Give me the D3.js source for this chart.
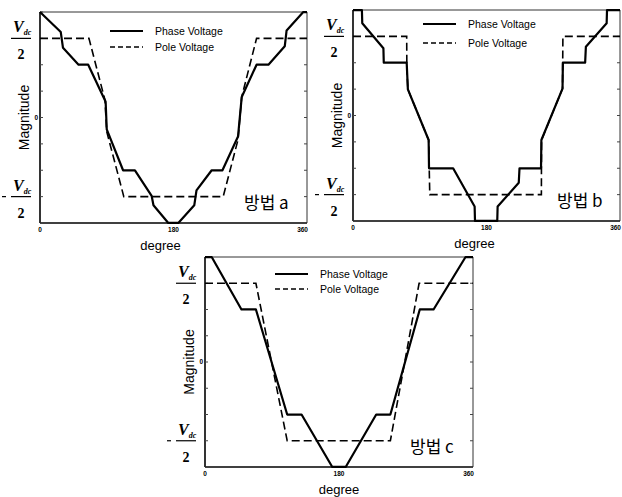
<!DOCTYPE html>
<html>
<head>
<meta charset="utf-8">
<script src="https://cdn.jsdelivr.net/npm/d3@7"></script>
<style>
  body { margin: 0; background: #fff; }
  svg { display: block; }
</style>
</head>
<body>
<svg id="chart" width="622" height="497"></svg>
<script>
// x in degrees, y in units of Vdc/2 (top of box = 4/3)
const xTicks = [0, 180, 360]
const xTickLabels = ['0', '180', '360']
const legendLabels = ['Phase Voltage', 'Pole Voltage']
const panelNames = ['방법 a', '방법 b', '방법 c']

const phaseADeg = [0, 28, 31, 52, 65, 88.5, 90, 112, 128, 150.5, 153, 173, 186.5, 208, 211, 231.5, 246, 267, 272, 292, 308, 330, 332.5, 355, 360]
const phaseAVal = [1.333, 1.08, 0.88, 0.667, 0.667, 0.2, -0.15, -0.667, -0.667, -0.99, -1.11, -1.333, -1.333, -1.11, -0.92, -0.667, -0.667, -0.24, 0.26, 0.667, 0.667, 0.9, 1.1, 1.333, 1.333]
const poleADeg = [0, 66, 87.6, 90, 113, 247, 267, 272, 292, 360]
const poleAVal = [1, 1, 0.22, -0.18, -1, -1, -0.28, 0.26, 1, 1]

const phaseBDeg = [0, 12, 12.5, 41, 41.5, 72.4, 74, 102, 102.5, 135, 164, 164.5, 194.5, 195, 223.5, 224.5, 253.5, 254, 282.5, 283, 313, 314, 342, 342.5, 360]
const phaseBVal = [1.333, 1.333, 1.165, 0.85, 0.667, 0.667, 0.33, -0.31, -0.667, -0.667, -1.15, -1.333, -1.333, -1.15, -0.85, -0.667, -0.667, -0.31, 0.34, 0.667, 0.667, 0.87, 1.165, 1.333, 1.333]
const poleBDeg = [0, 72.4, 72.6, 74, 102, 103.5, 254, 254.2, 282.5, 283, 360]
const poleBVal = [1, 1, 0.6, 0.33, -0.31, -1, -1, -0.31, 0.34, 1, 1]

const phaseCDeg = [0, 9, 49, 68.4, 110.4, 129.7, 171, 189, 230, 249, 288.5, 307, 350, 360]
const phaseCVal = [1.333, 1.333, 0.667, 0.667, -0.667, -0.667, -1.333, -1.333, -0.667, -0.667, 0.667, 0.667, 1.333, 1.333]
const poleCDeg = [0, 68.4, 110.4, 249, 287.6, 360]
const poleCVal = [1, 1, -1, -1, 1, 1]

const zip = (xs, ys) => xs.map((x, i) => ({ x: x, y: ys[i] }))

const panels = [
  { left: 40, top: 12, right: 307, bottom: 223, degShift: -13, legTop: [19, 35],
    phase: zip(phaseADeg, phaseAVal), pole: zip(poleADeg, poleAVal), name: panelNames[0] },
  { left: 353, top: 10, right: 620, bottom: 221, degShift: -12, legTop: [14, 33],
    phase: zip(phaseBDeg, phaseBVal), pole: zip(poleBDeg, poleBVal), name: panelNames[1] },
  { left: 205, top: 257, right: 473, bottom: 467, degShift: 0, legTop: [17, 32],
    phase: zip(phaseCDeg, phaseCVal), pole: zip(poleCDeg, poleCVal), name: panelNames[2] }
]

const svg = d3.select('#chart')

panels.forEach(function(p) {
  const x = d3.scaleLinear().domain([0, 360]).range([p.left, p.right])
  const y = d3.scaleLinear().domain([-4 / 3, 4 / 3]).range([p.bottom, p.top])
  const g = svg.append('g')

  // frame
  g.append('line').attr('x1', p.left).attr('x2', p.right).attr('y1', p.top).attr('y2', p.top)
    .attr('stroke', '#333').attr('stroke-width', 1)
  g.append('line').attr('x1', p.right).attr('x2', p.right).attr('y1', p.top).attr('y2', p.bottom)
    .attr('stroke', '#333').attr('stroke-width', 1)
  g.append('line').attr('x1', p.left).attr('x2', p.right).attr('y1', p.bottom).attr('y2', p.bottom)
    .attr('stroke', '#000').attr('stroke-width', 1.6)
  g.append('line').attr('x1', p.left).attr('x2', p.left).attr('y1', p.top).attr('y2', p.bottom)
    .attr('stroke', '#000').attr('stroke-width', 1.6)

  // little inside ticks on both sides, every Vdc/6
  const yt = d3.range(-4, 5).map(k => k / 3)
  g.selectAll('.tl').data(yt).enter().append('line')
    .attr('x1', p.left).attr('x2', p.left + 3)
    .attr('y1', d => y(d)).attr('y2', d => y(d))
    .attr('stroke', '#444').attr('stroke-width', 1)
  g.selectAll('.tr').data(yt).enter().append('line')
    .attr('x1', p.right - 3).attr('x2', p.right)
    .attr('y1', d => y(d)).attr('y2', d => y(d))
    .attr('stroke', '#444').attr('stroke-width', 1)

  // x tick labels (last one kept inside the box edge)
  g.selectAll('.xl').data(xTicks).enter().append('text')
    .attr('x', (d, i) => i === xTicks.length - 1 ? x(d) + 1 : x(d))
    .attr('y', p.bottom + 9)
    .attr('text-anchor', (d, i) => i === xTicks.length - 1 ? 'end' : 'middle')
    .attr('font-family', 'Liberation Sans, Arial, sans-serif')
    .attr('font-size', 6.5).attr('font-weight', 'bold')
    .text((d, i) => xTickLabels[i])

  // y tick "0"
  g.append('text').attr('x', p.left - 2).attr('y', y(0) + 2)
    .attr('text-anchor', 'end')
    .attr('font-family', 'Liberation Sans, Arial, sans-serif')
    .attr('font-size', 6.5).attr('font-weight', 'bold')
    .text('0')

  // Vdc/2 fraction labels
  ;[1, -1].forEach(function(v) {
    const fy = y(v)
    const fx = p.left - 29
    const fr = g.append('g')
    fr.append('line').attr('x1', fx).attr('x2', fx + 20).attr('y1', fy).attr('y2', fy)
      .attr('stroke', '#000').attr('stroke-width', 1.2)
    const t = fr.append('text').attr('x', fx + 2).attr('y', fy - 6)
      .attr('font-family', 'Liberation Serif, DejaVu Serif, serif')
      .attr('font-style', 'italic').attr('font-weight', 'bold')
      .attr('font-size', 16)
    t.append('tspan').text('V')
    t.append('tspan').attr('font-size', 8).attr('dy', 3).text('dc')
    fr.append('text').attr('x', fx + 10).attr('y', fy + 21)
      .attr('text-anchor', 'middle')
      .attr('font-family', 'Liberation Serif, DejaVu Serif, serif')
      .attr('font-weight', 'bold').attr('font-size', 14)
      .text('2')
    if (v < 0) {
      fr.append('line').attr('x1', fx - 9).attr('x2', fx - 5).attr('y1', fy).attr('y2', fy)
        .attr('stroke', '#000').attr('stroke-width', 1.2)
    }
  })

  // axis titles
  g.append('text')
    .attr('transform', `translate(${p.left - 11},${(p.top + p.bottom) / 2}) rotate(-90)`)
    .attr('text-anchor', 'middle')
    .attr('font-family', 'Liberation Sans, Arial, sans-serif')
    .attr('font-size', 14)
    .text('Magnitude')
  g.append('text')
    .attr('x', (p.left + p.right) / 2 + p.degShift).attr('y', p.bottom + 27)
    .attr('text-anchor', 'middle')
    .attr('font-family', 'Liberation Sans, Arial, sans-serif')
    .attr('font-size', 13)
    .text('degree')

  // waveforms
  const line = d3.line().x(d => x(d.x)).y(d => y(d.y))
  g.append('path').datum(p.pole).attr('d', line)
    .attr('fill', 'none').attr('stroke', '#000').attr('stroke-width', 1.6)
    .attr('stroke-dasharray', '8,4')
  g.append('path').datum(p.phase).attr('d', line)
    .attr('fill', 'none').attr('stroke', '#000').attr('stroke-width', 2.2)
    .attr('stroke-linejoin', 'round')

  // legend
  const lx = p.left + 70
  legendLabels.forEach(function(lab, i) {
    const ly = p.top + p.legTop[i]
    g.append('line').attr('x1', lx).attr('x2', lx + 33).attr('y1', ly).attr('y2', ly)
      .attr('stroke', '#000').attr('stroke-width', i === 0 ? 2.2 : 1.6)
      .attr('stroke-dasharray', i === 0 ? null : '5,3')
    g.append('text').attr('x', lx + 45).attr('y', ly + 3.5)
      .attr('font-family', 'Liberation Sans, Arial, sans-serif')
      .attr('font-size', 10.5)
      .text(lab)
  })

  // method label
  g.append('text').attr('x', p.right - 63).attr('y', p.bottom - 14)
    .attr('font-family', 'Noto Sans CJK KR, sans-serif')
    .attr('font-size', 17)
    .text(p.name)
})
</script>
</body>
</html>
